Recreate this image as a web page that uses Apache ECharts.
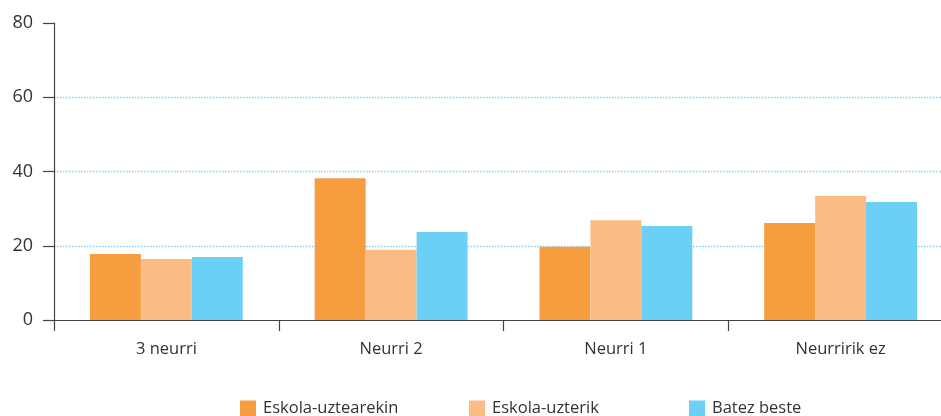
<!DOCTYPE html>
<html><head><meta charset="utf-8">
<script src="https://cdn.jsdelivr.net/npm/echarts@6/dist/echarts.min.js"></script>
<style>html,body{margin:0;padding:0;background:#fff}#c{width:941px;height:416px}</style>
</head><body><div id="c"></div>
<script>
const categories = ['3 neurri', 'Neurri 2', 'Neurri 1', 'Neurririk ez'];
const seriesNames = ['Eskola-uztearekin', 'Eskola-uzterik', 'Batez beste'];
const withLeaving = [17.8, 38.2, 19.7, 26.1];
const withoutLeaving = [16.4, 18.9, 26.9, 33.4];
const average = [17.0, 23.7, 25.3, 31.8];
const yTicks = [0, 20, 40, 60, 80];

const colors = ['#F69D3F', '#FBBC84', '#6BCFF6'];
const font = 'Open Sans';
const chart = echarts.init(document.getElementById('c'), null, {renderer: 'canvas'});
const values = [withLeaving, withoutLeaving, average];
const legendLefts = [240, 469, 689];
chart.setOption({
  animation: false,
  color: colors,
  grid: {left: 54, top: 23, height: 297, width: 899, outerBoundsMode: 'none', containLabel: false},
  legend: seriesNames.map((n, i) => ({
    data: [n], left: legendLefts[i], top: 400, itemWidth: 16, itemHeight: 16, itemGap: 0,
    padding: 0, icon: 'rect', selectedMode: false,
    textStyle: {fontFamily: font, fontSize: 16.5, color: '#333', padding: [0, 0, 0, 2]}
  })),
  xAxis: {
    type: 'category', data: categories,
    axisLine: {lineStyle: {color: '#444', width: 1.2}},
    axisTick: {show: true, length: 11, lineStyle: {color: '#444', width: 1.2}},
    axisLabel: {fontFamily: font, fontSize: 16.5, color: '#333', margin: 21}
  },
  yAxis: {
    type: 'value', min: yTicks[0], max: yTicks[yTicks.length - 1], interval: 20,
    axisLine: {show: true, lineStyle: {color: '#444', width: 1.2}},
    axisTick: {show: true, length: 11, lineStyle: {color: '#444', width: 1.2}},
    axisLabel: {fontFamily: font, fontSize: 18, color: '#333', margin: 21},
    splitLine: {show: true, showMinLine: false, showMaxLine: false,
      lineStyle: {color: '#86d3f2', type: [1.5, 1.5], width: 1.3}}
  },
  series: seriesNames.map((n, i) => ({
    name: n, type: 'bar', data: values[i], barGap: '0%', barCategoryGap: '32%',
    itemStyle: {color: colors[i]}
  }))
});
</script></body></html>
